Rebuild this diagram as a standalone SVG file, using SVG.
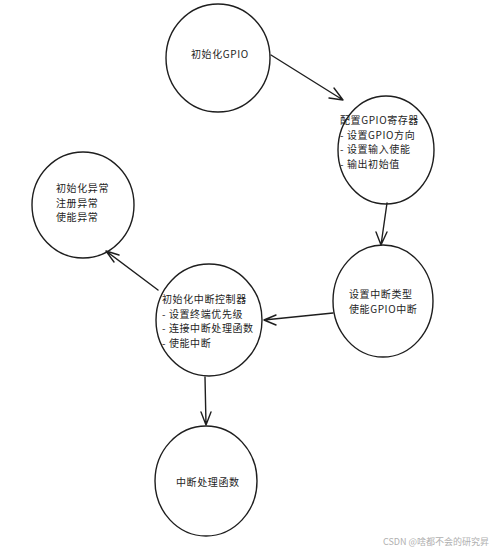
<svg xmlns="http://www.w3.org/2000/svg" width="500" height="554" viewBox="0 0 500 554">
<style>
.n{fill:none;stroke:#1e1e1e;stroke-width:1.4}
.t{font-family:"Noto Sans CJK SC","Liberation Sans",sans-serif;font-size:10px;letter-spacing:0.6px;fill:#1e1e1e}
.c{fill:none;stroke:#1e1e1e;stroke-width:1.4;stroke-linecap:round}
.w{font-family:"Noto Sans CJK SC","Liberation Sans",sans-serif;font-size:9px;fill:#b0b0b0}
</style>
<rect width="500" height="554" fill="#ffffff"/>
<g id="n1"><ellipse class="n" cx="218" cy="58" rx="52" ry="54"/><text class="t" x="191" y="58">初始化GPIO</text></g>
<g id="n2"><ellipse class="n" cx="386" cy="150" rx="48" ry="54"/>
<text class="t" x="340" y="124">配置GPIO寄存器</text>
<text class="t" x="340" y="138.5">- 设置GPIO方向</text>
<text class="t" x="340" y="153">- 设置输入使能</text>
<text class="t" x="340" y="167.5">- 输出初始值</text></g>
<g id="n3"><ellipse class="n" cx="83" cy="205" rx="51" ry="53"/>
<text class="t" x="56" y="192">初始化异常</text>
<text class="t" x="56" y="206.5">注册异常</text>
<text class="t" x="56" y="221">使能异常</text></g>
<g id="n4"><ellipse class="n" cx="383" cy="301" rx="50" ry="56"/>
<text class="t" x="349" y="298">设置中断类型</text>
<text class="t" x="349" y="313">使能GPIO中断</text></g>
<g id="n5"><ellipse class="n" cx="209" cy="320" rx="53" ry="56"/>
<text class="t" x="162" y="303">初始化中断控制器</text>
<text class="t" x="162" y="317.5">- 设置终端优先级</text>
<text class="t" x="162" y="332">- 连接中断处理函数</text>
<text class="t" x="162" y="346.5">- 使能中断</text></g>
<g id="n6"><ellipse class="n" cx="206" cy="481" rx="51" ry="55"/>
<text class="t" x="176" y="486">中断处理函数</text></g>
<g id="connectors">
<path class="c" d="M271 55 L343 100 M343 100 L329 98 M343 100 L334 88"/>
<path class="c" d="M387 203 L381 245 M381 245 L376 232 M381 245 L387 232"/>
<path class="c" d="M333 313 L264 320 M264 320 L276 315 M264 320 L276 325"/>
<path class="c" d="M158 290 L106 251 M106 251 L114 262 M106 251 L119 255"/>
<path class="c" d="M205 377 L206 425 M206 425 L201 412 M206 425 L211 412"/>
</g>
<text class="w" x="383" y="545">CSDN @啥都不会的研究昇</text>
</svg>
